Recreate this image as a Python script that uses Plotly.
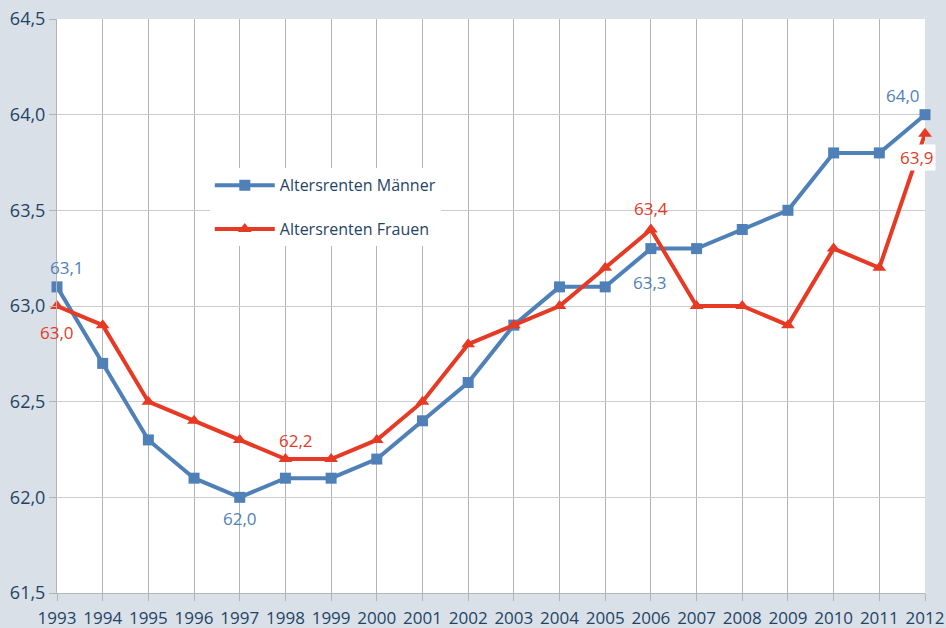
import plotly.graph_objects as go

years = list(range(1993, 2013))
maenner = [63.1, 62.7, 62.3, 62.1, 62.0, 62.1, 62.1, 62.2, 62.4, 62.6,
           62.9, 63.1, 63.1, 63.3, 63.3, 63.4, 63.5, 63.8, 63.8, 64.0]
frauen = [63.0, 62.9, 62.5, 62.4, 62.3, 62.2, 62.2, 62.3, 62.5, 62.8,
          62.9, 63.0, 63.2, 63.4, 63.0, 63.0, 62.9, 63.3, 63.2, 63.9]
y_ticks = [61.5, 62.0, 62.5, 63.0, 63.5, 64.0, 64.5]
y_tick_text = [f"{v:.1f}".replace(".", ",") for v in y_ticks]

BLUE = "#4f81b8"
RED = "#e63a24"
TXT = "#1f4466"
BG = "#d9e0e7"
FONT = "Open Sans"

fig = go.Figure()
fig.add_trace(go.Scatter(x=years, y=maenner, mode="lines+markers", name="Altersrenten Männer",
                         legendgroup="m", cliponaxis=False,
                         line=dict(color=BLUE, width=4), marker=dict(symbol="square", size=11, color=BLUE)))
fig.add_trace(go.Scatter(x=years, y=frauen, mode="lines+markers", name="Altersrenten Frauen",
                         legendgroup="f", cliponaxis=False,
                         line=dict(color=RED, width=4), marker=dict(symbol="triangle-up", size=12, color=RED)))

def fmt(v):
    return f"{v:.1f}".replace(".", ",")

# (series, index, color, yshift, xshift, bg)
labels = [
    (maenner, 0, BLUE, 19, 10, None),
    (frauen, 0, RED, -26, 0, None),
    (frauen, 5, RED, 19, 11, None),
    (maenner, 4, BLUE, -21, 0, None),
    (frauen, 13, RED, 21, 0, None),
    (maenner, 13, BLUE, -34, -1, None),
    (maenner, 19, BLUE, 19, -22, None),
    (frauen, 19, RED, -24, -8, "white"),
]
for series, i, col, ys, xs, bg in labels:
    fig.add_annotation(x=years[i], y=series[i], text=fmt(series[i]), showarrow=False,
                       yshift=ys, xshift=xs, font=dict(family=FONT, size=17, color=col),
                       bgcolor=bg if bg else "rgba(0,0,0,0)", borderpad=1)

fig.update_layout(
    width=946, height=628,
    margin=dict(l=57, r=21, t=19, b=35, autoexpand=False),
    paper_bgcolor=BG,
    plot_bgcolor="white",
    font=dict(family=FONT, size=16, color=TXT),
    showlegend=True,
    legend=dict(x=0.176, y=0.74, xanchor="left", yanchor="top", bgcolor="white",
                font=dict(family=FONT, size=16, color=TXT), tracegroupgap=20,
                itemwidth=60, borderwidth=0),
    xaxis=dict(range=[1993, 2012], tickmode="array", tickvals=years,
               ticktext=[str(y) for y in years], showgrid=True, gridcolor="#b4b4b4",
               gridwidth=1, ticks="outside", ticklen=7, tickcolor="#b4b4b4",
               zeroline=False, showline=True, linecolor="#b4b4b4", automargin=False,
               ticklabelstandoff=3,
               tickfont=dict(family=FONT, size=17, color=TXT)),
    yaxis=dict(range=[61.5, 64.5], tickmode="array", tickvals=y_ticks, ticktext=y_tick_text,
               showgrid=True, gridcolor="#cccccc", gridwidth=1, ticks="outside", ticklen=7,
               tickcolor="#b4b4b4", zeroline=False, showline=True, linecolor="#b4b4b4",
               automargin=False, tickfont=dict(family=FONT, size=18, color=TXT)),
)

fig.write_html("out.html", config={"displayModeBar": False},
               post_script=f"document.body.style.margin='0';document.body.style.background='{BG}';")
